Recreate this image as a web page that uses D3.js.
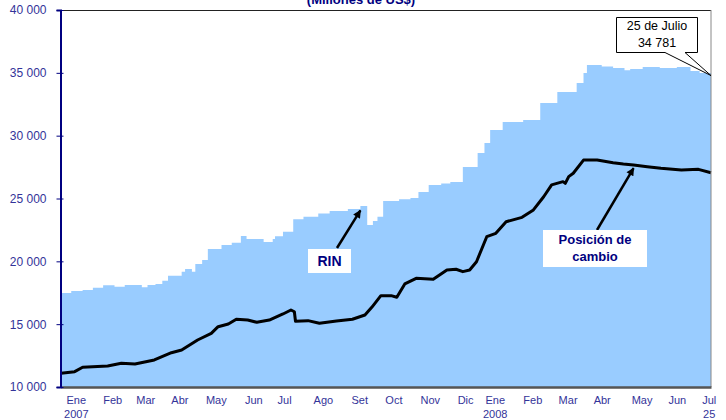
<!DOCTYPE html>
<html>
<head>
<meta charset="utf-8">
<script src="https://cdn.jsdelivr.net/npm/d3@7"></script>
<style>
body { margin: 0; background: #fff; }
svg { display: block; font-family: Arial, "Liberation Sans", sans-serif; }
</style>
</head>
<body>
<svg width="726" height="420"></svg>
<script>
// RIN (step series, start date of each level)
var rinDates = ["2007-01-01","2007-01-10","2007-01-20","2007-01-29","2007-02-07","2007-02-17","2007-02-26",
  "2007-03-13","2007-03-18","2007-03-25","2007-03-31","2007-04-05","2007-04-17","2007-04-20","2007-04-26",
  "2007-04-29","2007-05-05","2007-05-10","2007-05-22","2007-05-31","2007-06-08","2007-06-13","2007-06-28",
  "2007-07-06","2007-07-08","2007-07-15","2007-07-24","2007-08-02","2007-08-15","2007-08-25","2007-09-10",
  "2007-09-21","2007-09-27","2007-10-02","2007-10-06","2007-10-11","2007-10-25","2007-11-04","2007-11-11",
  "2007-11-20","2007-12-01","2007-12-09","2007-12-20","2008-01-02","2008-01-08","2008-01-13","2008-01-24",
  "2008-02-11","2008-02-26","2008-03-12","2008-03-29","2008-04-04","2008-04-07","2008-04-20","2008-04-30",
  "2008-05-10","2008-05-15","2008-05-26","2008-06-10","2008-06-25","2008-07-07","2008-07-15","2008-07-25"];
var rinValues = [17480,17640,17720,17900,18090,17980,18120,
  17930,18120,18200,18460,18860,19180,19390,19180,
  19790,20110,20980,21300,21480,22020,21780,21540,
  21780,22000,22350,23350,23550,23800,24000,24160,
  24400,22890,23200,23550,24800,24950,25040,25520,
  26070,26200,26310,27510,28620,29420,30450,31090,
  31250,32600,33480,34190,34990,35620,35500,35380,
  35200,35300,35460,35380,35460,35150,34990,34781];

// Posición de cambio
var posDates = ["2007-01-01","2007-01-13","2007-01-20","2007-02-11","2007-02-23","2007-03-07","2007-03-24",
  "2007-04-08","2007-04-17","2007-05-01","2007-05-13","2007-05-19","2007-05-28","2007-06-04","2007-06-14",
  "2007-06-22","2007-07-03","2007-07-15","2007-07-22","2007-07-25","2007-07-26","2007-08-06","2007-08-16",
  "2007-08-31","2007-09-14","2007-09-25","2007-10-01","2007-10-09","2007-10-18","2007-10-23","2007-10-30",
  "2007-11-09","2007-11-24","2007-12-06","2007-12-14","2007-12-20","2007-12-26","2008-01-01","2008-01-10",
  "2008-01-18","2008-01-27","2008-02-10","2008-02-20","2008-02-29","2008-03-07","2008-03-17","2008-03-19",
  "2008-03-22","2008-03-26","2008-04-04","2008-04-16","2008-04-30","2008-05-09","2008-05-18","2008-05-30",
  "2008-06-11","2008-06-29","2008-07-14","2008-07-25"];
var posValues = [11090,11220,11570,11670,11890,11830,12150,
  12730,12940,13740,14270,14800,15010,15390,15330,
  15150,15330,15810,16130,15990,15230,15280,15070,
  15250,15390,15730,16340,17270,17270,17140,18200,
  18650,18570,19310,19370,19180,19310,19970,21960,
  22230,23150,23500,24090,25140,26080,26340,26200,
  26740,27010,28060,28060,27850,27750,27670,27530,
  27400,27270,27320,27050];

// eje x: etiquetas de mes
var monthTicks = ["2007-01-14","2007-02-15","2007-03-16","2007-04-15","2007-05-17","2007-06-19","2007-07-16",
  "2007-08-19","2007-09-20","2007-10-20","2007-11-21","2007-12-22","2008-01-17","2008-02-19","2008-03-21",
  "2008-04-20","2008-05-25","2008-06-25","2008-07-23"];
var monthLabels = ["Ene","Feb","Mar","Abr","May","Jun","Jul","Ago","Set","Oct","Nov","Dic",
  "Ene","Feb","Mar","Abr","May","Jun","Jul"];
var subLabels = ["2007","","","","","","","","","","","","2008","","","","","","25"];
var yTicks = [10000,15000,20000,25000,30000,35000,40000];

var parse = d3.timeParse("%Y-%m-%d");
var rin = rinDates.map(function (d, i) { return {date: parse(d), v: rinValues[i]}; });
var pos = posDates.map(function (d, i) { return {date: parse(d), v: posValues[i]}; });

var svg = d3.select("svg");
var navy = "#000080", labelCol = "#333399";

var x = d3.scaleTime()
    .domain([parse("2007-01-01"), parse("2008-07-25")])
    .range([61, 711]);
var y = d3.scaleLinear()
    .domain([10000, 40000])
    .range([387, 10]);

var fmt = d3.formatLocale({decimal: ",", thousands: " ", grouping: [3], currency: ["", ""]}).format(",d");

// area RIN
svg.append("path")
    .datum(rin)
    .attr("fill", "#99ccff")
    .attr("d", d3.area()
        .x(function (d) { return x(d.date); })
        .y0(y(10000))
        .y1(function (d) { return y(d.v); })
        .curve(d3.curveStepAfter));

// linea posicion de cambio
svg.append("path")
    .datum(pos)
    .attr("fill", "none")
    .attr("stroke", "#000")
    .attr("stroke-width", 3)
    .attr("stroke-linejoin", "round")
    .attr("d", d3.line()
        .x(function (d) { return x(d.date); })
        .y(function (d) { return y(d.v); }));

// bordes
svg.append("line").attr("x1", 61).attr("x2", 711).attr("y1", 10.5).attr("y2", 10.5)
    .attr("stroke", "#222").attr("stroke-width", 1);
svg.append("line").attr("x1", 711).attr("x2", 711).attr("y1", 10).attr("y2", 387)
    .attr("stroke", "#888").attr("stroke-width", 1);

// eje x
var xAxis = svg.append("g")
    .attr("transform", "translate(0,387)")
    .call(d3.axisBottom(x).tickValues(monthTicks.map(parse)).tickSize(0).tickPadding(0)
        .tickFormat(function (d, i) { return monthLabels[i]; }));
xAxis.select(".domain").attr("stroke", "#555").attr("stroke-width", 2.5);
xAxis.selectAll(".tick text")
    .attr("y", 17).attr("dy", null)
    .attr("fill", labelCol).attr("font-size", 11).attr("font-family", "Arial, 'Liberation Sans', sans-serif");
xAxis.selectAll(".tick").append("text")
    .attr("y", 31)
    .attr("text-anchor", "middle")
    .attr("fill", labelCol).attr("font-size", 11).attr("font-family", "Arial, 'Liberation Sans', sans-serif")
    .text(function (d, i) { return subLabels[i]; });

// eje y
var yAxis = svg.append("g")
    .attr("transform", "translate(60.5,0)")
    .call(d3.axisLeft(y).tickValues(yTicks).tickSizeOuter(0).tickSize(4).tickPadding(10).tickFormat(fmt));
yAxis.select(".domain").attr("stroke", navy).attr("stroke-width", 2);
yAxis.selectAll(".tick line").attr("x1", -4).attr("x2", 3).attr("stroke", navy);
yAxis.selectAll(".tick text")
    .attr("fill", labelCol).attr("font-size", 12).attr("font-family", "Arial, 'Liberation Sans', sans-serif");

// titulo
svg.append("text")
    .attr("x", 361).attr("y", 4)
    .attr("text-anchor", "middle")
    .attr("font-weight", "bold").attr("font-size", 13).attr("fill", navy)
    .text("(Millones de US$)");

// flechas
svg.append("defs").append("marker")
    .attr("id", "head")
    .attr("viewBox", "0 0 10 10")
    .attr("refX", 9).attr("refY", 5)
    .attr("markerWidth", 9).attr("markerHeight", 8)
    .attr("markerUnits", "userSpaceOnUse")
    .attr("orient", "auto")
    .append("path").attr("d", "M0,0 L10,5 L0,10 z").attr("fill", "#000");

function arrow(x1, y1, date, v) {
    svg.append("line")
        .attr("x1", x1).attr("y1", y1)
        .attr("x2", x(parse(date))).attr("y2", y(v))
        .attr("stroke", "#000").attr("stroke-width", 2.5)
        .attr("marker-end", "url(#head)");
}
arrow(337, 248, "2007-09-21", 24050);
arrow(597, 230, "2008-05-18", 27420);

// etiqueta RIN
svg.append("rect").attr("x", 308).attr("y", 249).attr("width", 43).attr("height", 24).attr("fill", "#fff");
svg.append("text").attr("x", 329.5).attr("y", 266).attr("text-anchor", "middle")
    .attr("font-weight", "bold").attr("font-size", 14).attr("fill", navy).text("RIN");

// etiqueta posicion de cambio
svg.append("rect").attr("x", 543).attr("y", 230).attr("width", 104).attr("height", 37).attr("fill", "#fff");
svg.append("text").attr("x", 595).attr("y", 244).attr("text-anchor", "middle")
    .attr("font-weight", "bold").attr("font-size", 13).attr("fill", navy).text("Posición de");
svg.append("text").attr("x", 595).attr("y", 261).attr("text-anchor", "middle")
    .attr("font-weight", "bold").attr("font-size", 13).attr("fill", navy).text("cambio");

// llamada ultimo dato
var last = rin[rin.length - 1];
var tx = x(last.date), ty = y(last.v);
svg.append("path")
    .attr("d", "M616.5,17.5 H697.5 V52.5 H685 L" + tx + "," + ty + " L665,52.5 H616.5 Z")
    .attr("fill", "#fff").attr("stroke", "#000").attr("stroke-width", 1);
svg.append("text").attr("x", 657).attr("y", 30).attr("text-anchor", "middle")
    .attr("font-size", 12.5).attr("fill", "#000").text("25 de Julio");
svg.append("text").attr("x", 657).attr("y", 47).attr("text-anchor", "middle")
    .attr("font-size", 12.5).attr("fill", "#000").text(fmt(last.v));
</script>
</body>
</html>
